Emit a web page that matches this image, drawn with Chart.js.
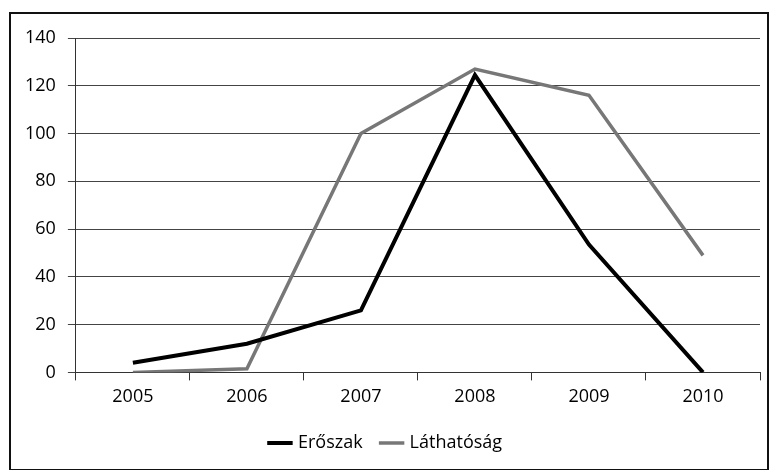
<!DOCTYPE html>
<html>
<head>
<meta charset="utf-8">
<script src="https://cdn.jsdelivr.net/npm/chart.js"></script>
<style>
    body { margin: 0; background: #fff; }
    .frame {
        position: absolute; left: 9px; top: 12px;
        width: 756px; height: 455px;
        border: 2px solid #111;
    }
</style>
</head>
<body>
<div class="frame">
    <canvas id="chart" width="756" height="455"></canvas>
</div>
<script>
    // Adatok
    var evek = ['2005', '2006', '2007', '2008', '2009', '2010'];
    var eroszak = [4, 12, 26, 124.5, 53.5, 0];
    var lathatosag = [0, 1.5, 100, 127, 116, 49];

    var ctx = document.getElementById('chart').getContext('2d');
    Chart.defaults.font.family = '"Open Sans", "Liberation Sans", sans-serif';
    Chart.defaults.font.size = 18;
    Chart.defaults.color = '#000';

    new Chart(ctx, {
        type: 'line',
        data: {
            labels: evek,
            datasets: [{
                label: 'Erőszak',
                data: eroszak,
                borderColor: '#000',
                backgroundColor: '#000',
                borderWidth: 4,
                pointRadius: 0,
                tension: 0
            }, {
                label: 'Láthatóság',
                data: lathatosag,
                borderColor: '#777',
                backgroundColor: '#777',
                borderWidth: 3.5,
                pointRadius: 0,
                tension: 0
            }]
        },
        options: {
            responsive: false,
            animation: false,
            layout: { padding: { left: 2, right: 7, top: 24, bottom: 7 } },
            plugins: {
                tooltip: { enabled: false },
                legend: {
                    position: 'bottom',
                    labels: {
                        usePointStyle: true,
                        pointStyle: 'line',
                        boxWidth: 40,
                        padding: 20,
                        font: { size: 18 }
                    }
                }
            },
            scales: {
                x: {
                    offset: true,
                    grid: {
                        display: true,
                        drawOnChartArea: false,
                        drawTicks: true,
                        tickLength: 8,
                        color: '#333',
                        offset: true
                    },
                    border: { display: true, color: '#333', width: 1 },
                    ticks: { padding: 6 }
                },
                y: {
                    min: 0,
                    max: 140,
                    ticks: { stepSize: 20, padding: 12 },
                    grid: {
                        color: '#444',
                        lineWidth: 1,
                        drawTicks: true,
                        tickLength: 8
                    },
                    border: { display: true, color: '#333', width: 1 }
                }
            }
        }
    });
</script>
</body>
</html>
